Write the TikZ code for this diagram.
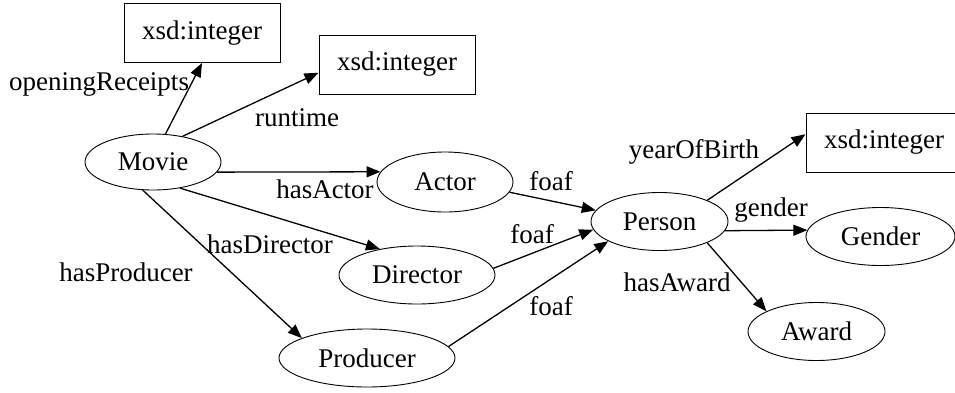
\documentclass[tikz,border=0pt]{standalone}
\usepackage{fontspec}
\setmainfont{Liberation Serif}
\usetikzlibrary{shapes.geometric,arrows.meta}

\begin{document}
\begin{tikzpicture}[x=1pt,y=-1pt,
		font=\fontsize{27}{32}\selectfont,
		cls/.style={draw,ellipse,line width=0.9pt,inner sep=0pt,minimum height=58pt},
		lit/.style={draw,rectangle,line width=1pt,inner sep=0pt,minimum width=156pt,minimum height=59pt},
		lbl/.style={inner sep=1pt},
		rel/.style={-{Triangle[length=14pt,width=11pt]},line width=1.3pt}]
			\useasboundingbox (0,0) rectangle (955,392);
			%\draw[help lines,step=50] (0,0) grid (955,392);
			
			\node[lit] (int1) at (202,33) {xsd:integer};
			\node[lit] (int2) at (397,64.5) {xsd:integer};
			\node[lit] (int3) at (884,142.5) {xsd:integer};
			
			\node[cls,minimum width=136pt,minimum height=56pt] (movie) at (153,162) {Movie};
			\node[cls,minimum width=136pt,minimum height=60pt] (actor) at (445,182) {Actor};
			\node[cls,minimum width=156pt] (director) at (417,275) {Director};
			\node[cls,minimum width=176pt] (producer) at (367,358) {Producer};
			\node[cls,minimum width=137pt] (person) at (659.5,221.5) {Person};
			\node[cls,minimum width=149pt] (gender) at (880.5,236.5) {Gender};
			\node[cls,minimum width=137pt] (award) at (816.5,331.5) {Award};
			
			\draw[rel] (movie.66) -- (int1.south);
			\draw[rel] (movie.41) -- (int2.186);
			\draw[rel] (movie.-9) -- (actor.171);
			\draw[rel] (movie.-44) -- (director.145);
			\draw[rel] (movie.-110) -- (producer.163);
			\draw[rel] (actor.-9) -- (person.170);
			\draw[rel] (director.5) -- (person.187);
			\draw[rel] (producer.8) -- (person.201);
			\draw[rel] (person.24) -- (int3.174);
			\draw[rel] (person.-8) -- (gender.175);
			\draw[rel] (person.-24) -- (award.158);
			
			\node[lbl] (l1) at (99,84) {openingReceipts};
			\node[lbl] (l2) at (297,118) {runtime};
			\node[lbl] (l3) at (325,189) {hasActor};
			\node[lbl] (l4) at (270,244) {hasDirector};
			\node[lbl] (l5) at (126,272) {hasProducer};
			\node[lbl] (l6) at (551,181) {foaf};
			\node[lbl] (l7) at (532,234) {foaf};
			\node[lbl] (l8) at (551,306) {foaf};
			\node[lbl] (l9) at (694,152) {yearOfBirth};
			\node[lbl] (l10) at (771,210) {gender};
			\node[lbl] (l11) at (677,282) {hasAward};
		\end{tikzpicture}
\end{document}
